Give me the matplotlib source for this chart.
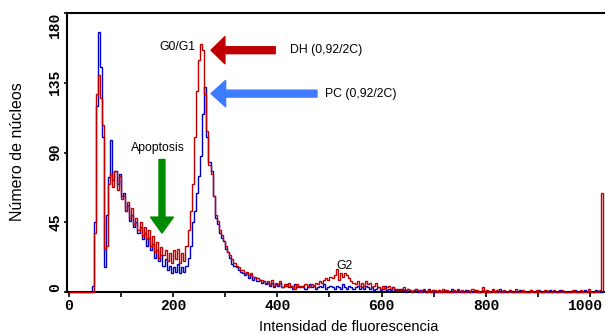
import matplotlib
matplotlib.use("Agg")
import matplotlib.pyplot as plt
import numpy as np

# histogram channels, 4 units per bin, 0..1024
bin_width = 4
edges = np.arange(0, 1024 + bin_width, bin_width)

blue_counts = [
    0, 0, 0, 0, 0, 0, 0, 0, 0, 0, 0, 4, 45, 120, 168, 145,
    100, 16, 50, 74, 98, 72, 78, 70, 76, 62, 64, 52, 56, 46, 50, 42,
    45, 38, 42, 34, 38, 30, 35, 27, 31, 22, 27, 20, 24, 17, 21, 14,
    17, 12, 16, 13, 18, 12, 16, 13, 17, 22, 30, 45, 52, 64, 75, 88,
    115, 132, 100, 84, 78, 62, 48, 44, 38, 35, 33, 28, 26, 22, 18, 17,
    16, 14, 13, 12, 11, 12, 9, 11, 8, 10, 7, 8, 6, 7, 5, 6,
    4, 6, 3, 5, 4, 6, 3, 4, 5, 3, 4, 2, 5, 3, 4, 3,
    4, 2, 3, 5, 3, 4, 2, 3, 4, 3, 5, 2, 3, 4, 3, 2,
    4, 3, 2, 5, 3, 2, 4, 3, 2, 3, 4, 2, 3, 2, 4, 3,
    2, 3, 1, 2, 3, 1, 2, 4, 1, 2, 1, 3, 1, 2, 1, 2,
    1, 0, 2, 1, 0, 1, 2, 0, 1, 0, 1, 0, 2, 0, 1, 0,
    0, 1, 0, 0, 1, 0, 0, 2, 0, 0, 1, 0, 0, 0, 1, 0,
    0, 0, 1, 0, 0, 0, 1, 0, 0, 0, 0, 1, 0, 0, 2, 0,
    0, 0, 0, 1, 0, 0, 0, 0, 1, 0, 0, 0, 0, 1, 0, 0,
    0, 1, 0, 0, 0, 0, 1, 0, 0, 0, 0, 1, 0, 0, 0, 0,
    0, 0, 1, 0, 0, 0, 0, 1, 0, 0, 0, 0, 1, 0, 0, 0,
]

red_counts = [
    0, 0, 0, 0, 0, 0, 0, 0, 0, 0, 0, 0, 38, 128, 140, 125,
    108, 28, 30, 70, 76, 68, 78, 66, 75, 60, 62, 52, 58, 48, 54, 44,
    48, 40, 45, 36, 42, 34, 40, 30, 36, 26, 32, 22, 29, 24, 27, 20,
    25, 19, 27, 21, 28, 19, 25, 20, 30, 40, 52, 70, 100, 130, 150, 160,
    156, 128, 104, 82, 76, 62, 50, 46, 40, 37, 33, 30, 26, 24, 21, 19,
    17, 16, 14, 14, 12, 13, 11, 12, 10, 10, 9, 8, 8, 7, 6, 7,
    5, 8, 4, 6, 5, 7, 3, 5, 4, 6, 3, 4, 2, 5, 3, 4,
    3, 5, 4, 3, 5, 4, 6, 5, 7, 6, 8, 9, 8, 10, 9, 11,
    15, 8, 12, 10, 12, 11, 9, 7, 6, 5, 7, 4, 6, 4, 7, 5,
    6, 3, 4, 6, 3, 2, 4, 2, 3, 4, 2, 3, 2, 1, 2, 1,
    3, 1, 2, 1, 0, 1, 2, 1, 0, 1, 2, 0, 1, 0, 1, 1,
    0, 1, 0, 2, 0, 1, 0, 0, 1, 0, 2, 0, 1, 0, 0, 1,
    0, 2, 0, 1, 0, 0, 3, 0, 1, 0, 0, 2, 0, 1, 0, 0,
    1, 0, 0, 1, 0, 0, 2, 0, 0, 1, 0, 0, 0, 1, 0, 0,
    1, 0, 0, 0, 1, 0, 0, 0, 1, 0, 0, 0, 1, 0, 0, 0,
    0, 1, 0, 0, 0, 1, 0, 0, 0, 2, 0, 0, 0, 0, 1, 64,
]

x_ticks = list(range(0, 1001, 100))
# 1000 is written separately so it stays inside the picture
x_labels = [str(t) if t % 200 == 0 and t < 1000 else "" for t in x_ticks]
y_ticks = [0, 45, 90, 135, 180]

fig = plt.figure(figsize=(6.05, 3.34), dpi=100)
ax = fig.add_axes([67 / 605, 42 / 334, 538 / 605, 279 / 334])

ax.stairs(blue_counts, edges, color="#0000c0", lw=1.0, clip_on=False, zorder=3)
ax.stairs(red_counts, edges, color="#c00000", lw=1.0, clip_on=False, zorder=3)

ax.set_xlim(-3, 1028)
ax.set_ylim(0, 180)

mono = dict(family="Liberation Mono", weight="bold", size=10.5)
ax.set_xticks(x_ticks)
ax.set_xticklabels(x_labels, fontdict=mono)
ax.annotate("1000", xy=(1000, 0), xycoords=("data", "axes fraction"),
            xytext=(-4, -5.1), textcoords="offset points", ha="center", va="top", **mono)
ax.set_yticks(y_ticks)
ax.set_yticklabels([str(t) for t in y_ticks], fontdict=mono, rotation=90, va="center")
ylab = ax.get_yticklabels()
ylab[0].set_va("bottom")
ylab[-1].set_va("top")

ax.tick_params(axis="x", length=3.6, width=1.2, pad=1.5)
ax.tick_params(axis="y", length=2.2, width=1.2, pad=1)
for s in ["left", "bottom", "top"]:
    ax.spines[s].set_linewidth(1.5)
ax.spines["right"].set_visible(False)

fig.text(18 / 605, 1 - 152 / 334, "Número de núcleos", rotation=90,
         ha="center", va="center", family="Liberation Sans", size=11.5)
fig.text(349 / 605, 1 - 327 / 334, "Intensidad de fluorescencia",
         ha="center", va="center", family="Liberation Sans", size=10.5)

lab = dict(family="Liberation Sans", size=8.8)
ax.text(209, 158, "G0/G1", ha="center", va="center", **lab)
ax.text(424, 156, "DH (0,92/2C)", ha="left", va="center", **lab)
ax.text(491, 128, "PC (0,92/2C)", ha="left", va="center", **lab)
ax.text(171, 93, "Apoptosis", ha="center", va="center", **lab)
ax.text(529, 17, "G2", ha="center", va="center", **lab)

def arrow(tip, tail, color, hl, hw, tw):
    ax.annotate("", xy=tip, xytext=tail,
                arrowprops=dict(arrowstyle=f"simple,head_length={hl},head_width={hw},tail_width={tw}",
                                mutation_scale=1, color=color, shrinkA=0, shrinkB=0))

arrow((273, 156), (396, 156), "#c00000", 10, 19.5, 5)
arrow((273, 128), (476, 128), "#3d7cff", 10.5, 19, 5)
arrow((179, 38), (179, 85.5), "#008a00", 11.5, 16.5, 4.3)

fig.savefig("out.png", dpi=100)
